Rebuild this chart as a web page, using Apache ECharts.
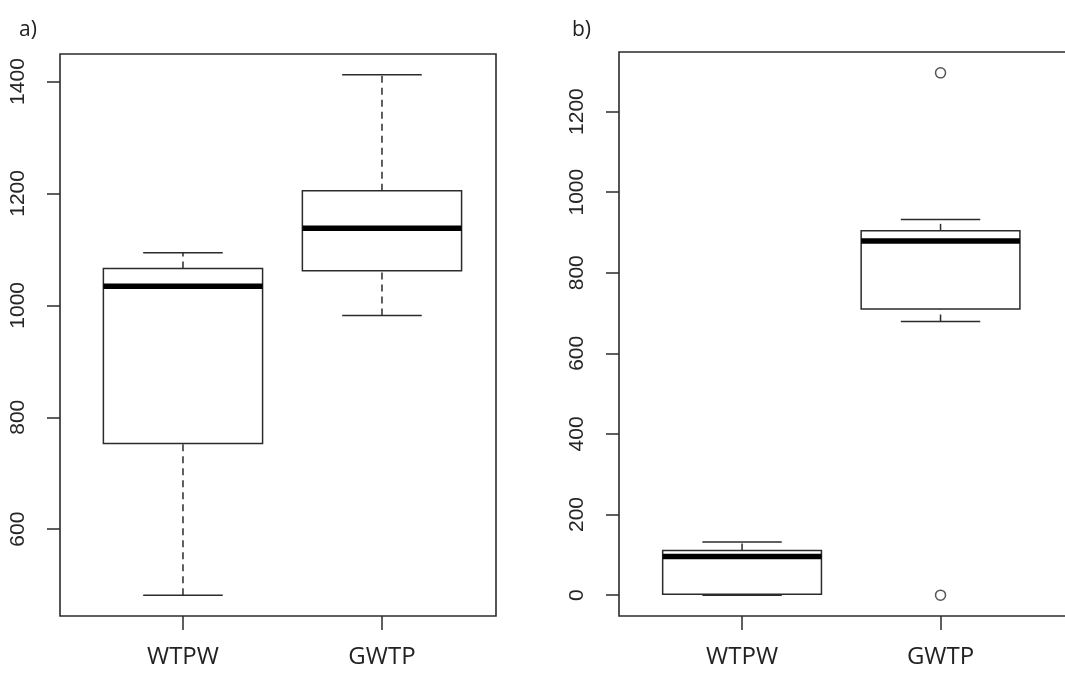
<!DOCTYPE html>
<html>
<head>
<meta charset="utf-8">
<script src="https://cdn.jsdelivr.net/npm/echarts@6/dist/echarts.min.js"></script>
<style>
  html, body { margin: 0; padding: 0; background: #fff; }
  #main { width: 1065px; height: 673px; }
</style>
</head>
<body>
<div id="main"></div>
<script>
// groups, shared by both panels
var categories = ['WTPW', 'GWTP'];

// panel a) : [min, Q1, median, Q3, max]
var boxA = [
    [482, 753, 1034, 1066, 1094],
    [982, 1062, 1138, 1205, 1412]
];
var ticksA = [600, 800, 1000, 1200, 1400];

// panel b)
var boxB = [
    [0, 2, 96, 111, 132],
    [679, 710, 879, 904, 932]
];
var outliersB = [[], [1296, 0]];
var ticksB = [0, 200, 400, 600, 800, 1000, 1200];

var ink = '#2b2b2b';
var chart = echarts.init(document.getElementById('main'));

// box + dashed whiskers + staples + thick median, R style
function renderBox(params, api) {
    var x = api.value(0);
    var pMin = api.coord([x, api.value(1)]);
    var pQ1 = api.coord([x, api.value(2)]);
    var pMed = api.coord([x, api.value(3)]);
    var pQ3 = api.coord([x, api.value(4)]);
    var pMax = api.coord([x, api.value(5)]);
    var bw = api.size([0.8, 0])[0];
    var cx = pMed[0];
    var solid = { stroke: ink, lineWidth: 1.5 };
    var dashed = { stroke: ink, lineWidth: 1.5, lineDash: [7, 5] };
    return {
        type: 'group',
        children: [
            { type: 'line', shape: { x1: cx, y1: pQ3[1], x2: cx, y2: pMax[1] }, style: dashed },
            { type: 'line', shape: { x1: cx, y1: pMin[1], x2: cx, y2: pQ1[1] }, style: dashed },
            { type: 'line', shape: { x1: cx - bw / 4, y1: pMax[1], x2: cx + bw / 4, y2: pMax[1] }, style: solid },
            { type: 'line', shape: { x1: cx - bw / 4, y1: pMin[1], x2: cx + bw / 4, y2: pMin[1] }, style: solid },
            { type: 'rect', shape: { x: cx - bw / 2, y: pQ3[1], width: bw, height: pQ1[1] - pQ3[1] },
              style: { fill: '#fff', stroke: ink, lineWidth: 1.5 } },
            { type: 'line', shape: { x1: cx - bw / 2, y1: pMed[1], x2: cx + bw / 2, y2: pMed[1] },
              style: { stroke: '#000', lineWidth: 5.5 } }
        ]
    };
}

function boxData(list) {
    return list.map(function (b, i) { return [i + 1].concat(b); });
}

function outlierData(list) {
    var out = [];
    list.forEach(function (vals, i) {
        vals.forEach(function (v) { out.push([i + 1, v]); });
    });
    return out;
}

function xAxisFor(idx, min, max) {
    return {
        type: 'value', gridIndex: idx, min: min, max: max,
        axisLine: { show: false, onZero: false },
        splitLine: { show: false },
        axisTick: { customValues: [1, 2], length: 14, lineStyle: { color: ink, width: 1.5 } },
        axisLabel: {
            customValues: [1, 2], margin: 29,
            fontFamily: 'Open Sans', fontSize: 24, color: '#222',
            formatter: function (v) { return categories[Math.round(v) - 1]; }
        }
    };
}

function yAxisFor(idx, min, max, ticks) {
    return {
        type: 'value', gridIndex: idx, min: min, max: max,
        axisLine: { show: false, onZero: false },
        splitLine: { show: false },
        axisTick: { customValues: ticks, length: 13, lineStyle: { color: ink, width: 1.5 } },
        axisLabel: {
            customValues: ticks, rotate: 90, margin: 31,
            fontFamily: 'Liberation Sans', fontSize: 21, color: '#262626',
            formatter: function (v) { return String(v); }
        }
    };
}

var option = {
    backgroundColor: '#fff',
    animation: false,
    title: [
        { text: 'a)', left: 14, top: 15, textStyle: { fontFamily: 'Open Sans', fontSize: 21, fontWeight: 'normal', color: '#222' } },
        { text: 'b)', left: 567, top: 15, textStyle: { fontFamily: 'Open Sans', fontSize: 21, fontWeight: 'normal', color: '#222' } }
    ],
    grid: [
        { left: 60, top: 54, width: 436, height: 562, show: true, borderColor: ink, borderWidth: 1.6,
          outerBoundsMode: 'none', containLabel: false },
        { left: 619, top: 52, width: 470, height: 564, show: true, borderColor: ink, borderWidth: 1.6,
          outerBoundsMode: 'none', containLabel: false }
    ],
    xAxis: [
        xAxisFor(0, 0.382, 2.573),
        xAxisFor(1, 0.380, 2.748)
    ],
    yAxis: [
        yAxisFor(0, 444.8, 1449.2, ticksA),
        yAxisFor(1, -51.8, 1347.8, ticksB)
    ],
    series: [
        { type: 'custom', xAxisIndex: 0, yAxisIndex: 0, renderItem: renderBox, data: boxData(boxA) },
        { type: 'custom', xAxisIndex: 1, yAxisIndex: 1, renderItem: renderBox, data: boxData(boxB) },
        {
            type: 'scatter', xAxisIndex: 1, yAxisIndex: 1,
            symbol: 'circle', symbolSize: 10,
            itemStyle: { color: 'rgba(0,0,0,0)', borderColor: ink, borderWidth: 1.5 },
            data: outlierData(outliersB)
        }
    ]
};

chart.setOption(option);
</script>
</body>
</html>
